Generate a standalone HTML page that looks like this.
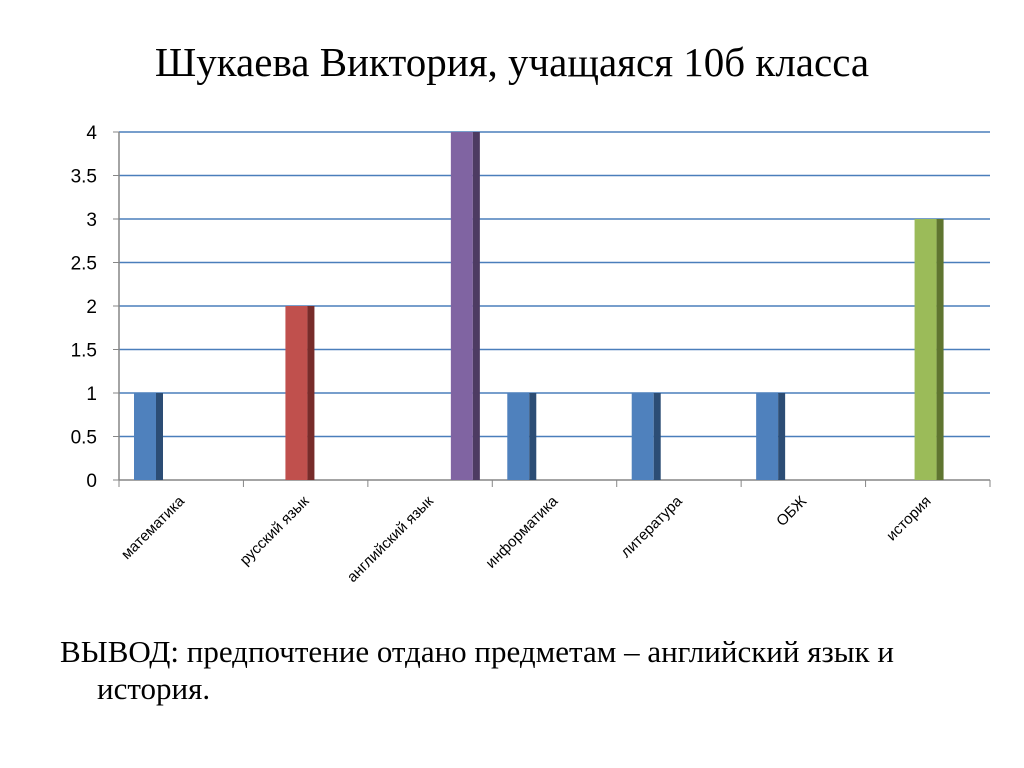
<!DOCTYPE html>
<html><head><meta charset="utf-8">
<style>
body{margin:0;width:1024px;height:768px;background:#fff;overflow:hidden;position:relative;font-family:"Liberation Serif",serif}
#title{position:absolute;left:0;width:1024px;top:38px;text-align:center;font-size:41px;color:#000}
#concl{position:absolute;left:60px;top:633px;width:940px;font-size:31px;line-height:37px;color:#000}
#concl .l2{padding-left:37px}
svg{position:absolute;left:0;top:0}
</style></head><body>
<div id="title">Шукаева Виктория, учащаяся 10б класса</div>
<svg id="chart" width="1024" height="768"></svg>
<div id="concl">ВЫВОД: предпочтение отдано предметам – английский язык и<br><span class="l2">история.</span></div>
<script>
const categories=["математика","русский язык","английский язык","информатика","литература","ОБЖ","история"];
const values=[1,2,4,1,1,1,3];
const seriesIdx=[0,1,3,0,0,0,2];
const yTicks=[0,0.5,1,1.5,2,2.5,3,3.5,4];
const yTickLabels=["0","0.5","1","1.5","2","2.5","3","3.5","4"];
const front=["#4f81bd","#c0504d","#9bbb59","#8064a2"];
const side=["#2c4d75","#772c2a","#5f7530","#4d3b62"];
const offsets=[15,42,49,83];
const svg=document.getElementById('chart');
const NS='http://www.w3.org/2000/svg';
const X0=119,X1=990,Y0=480,Y1=132,YMAX=4;
const cw=(X1-X0)/categories.length;
const y=v=>Y0-(v/YMAX)*(Y0-Y1);
function mk(t,a){const e=document.createElementNS(NS,t);for(const k in a)e.setAttribute(k,a[k]);svg.appendChild(e);return e;}
yTicks.forEach((t,i)=>{
  if(t>0){const g=mk('line',{x1:X0,x2:X1,y1:y(t),y2:y(t),stroke:'#4a7ebb','stroke-width':1.5});
  
  }
  const l=mk('text',{x:97,y:y(t)+7,'text-anchor':'end','font-family':'Liberation Sans, sans-serif','font-size':19,fill:'#000'});
  l.textContent=yTickLabels[i];
  
  
  const tk=mk('line',{x1:X0-6,x2:X0,y1:y(t),y2:y(t),stroke:'#868686'});
  
  
});
const ya=mk('line',{x1:X0,x2:X0,y1:Y1,y2:Y0,stroke:'#868686','stroke-width':1.5});


const xa=mk('line',{x1:X0,x2:X1,y1:Y0,y2:Y0,stroke:'#868686','stroke-width':1.5});


for(let i=0;i<=categories.length;i++){
  const tk=mk('line',{x1:X0+i*cw,x2:X0+i*cw,y1:Y0,y2:Y0+7,stroke:'#868686'});
  
  
}
categories.forEach((c,i)=>{
  const s=seriesIdx[i];
  const bx=X0+i*cw+offsets[s];
  const top=y(values[i]);
  const b=mk('rect',{x:bx,y:top,width:22,height:Y0-top,fill:front[s]});
  
  
  const sd=mk('rect',{x:bx+22,y:top,width:7,height:Y0-top,fill:side[s]});
  
  
  const cx=X0+i*cw+cw/2+4, cy=Y0+22;
  const t=mk('text',{x:cx,y:cy,'text-anchor':'end','font-family':'Liberation Sans, sans-serif','font-size':15,fill:'#000',transform:`rotate(-45 ${cx} ${cy})`});
  t.textContent=c;
  
  
});
</script>
</body></html>
